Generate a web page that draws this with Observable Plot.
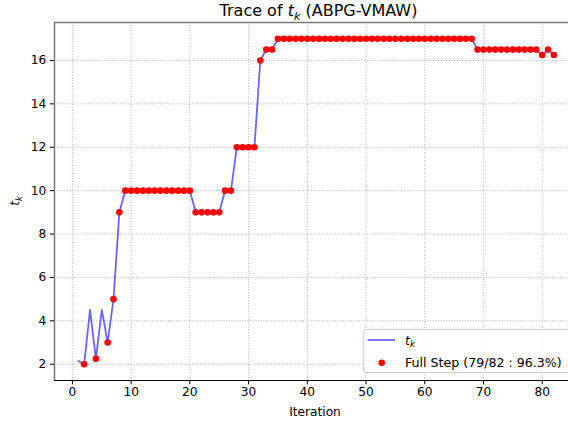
<!DOCTYPE html>
<html><head><meta charset="utf-8">
<script src="https://cdn.jsdelivr.net/npm/d3@7"></script>
<script src="https://cdn.jsdelivr.net/npm/@observablehq/plot@0.6"></script>
<style>
html,body{margin:0;padding:0;background:#fff;}
svg{display:block;}
</style>
</head><body><div id="chart"></div>
<script>
// t_k value at each iteration (iteration = index + 1)
const tkValues = [
  2.15, 2.0, 4.5, 2.25, 4.5, 3.0, 5.0, 9.0,
  10, 10, 10, 10, 10, 10, 10, 10, 10, 10, 10, 10,
  9, 9, 9, 9, 9,
  10, 10,
  12, 12, 12, 12,
  16,
  16.5, 16.5,
  17, 17, 17, 17, 17, 17, 17, 17, 17, 17, 17, 17, 17, 17, 17, 17, 17,
  17, 17, 17, 17, 17, 17, 17, 17, 17, 17, 17, 17, 17, 17, 17, 17, 17,
  16.5, 16.5, 16.5, 16.5, 16.5, 16.5, 16.5, 16.5, 16.5, 16.5, 16.5,
  16.25, 16.5, 16.25
];
// iterations that were NOT full steps
const partialSteps = [1, 3, 5];
const xTicks = [0, 10, 20, 30, 40, 50, 60, 70, 80];
const yTicks = [2, 4, 6, 8, 10, 12, 14, 16];
const titlePre = "Trace of ";
const titlePost = " (ABPG-VMAW)";
const xLabel = "Iteration";
const legendFull = "Full Step (79/82 : 96.3%)";

const data = tkValues.map((t, i) => ({iter: i + 1, tk: t, full: !partialSteps.includes(i + 1)}));
const fullData = data.filter(d => d.full);

const xDom = [-3.05, 84.48];
const yDom = [1.25, 17.75];
const gridStyle = {stroke: "#b0b0b0", strokeOpacity: 1, strokeWidth: 1, strokeDasharray: "1,1.65"};

const chart = Plot.plot({
  width: 568, height: 423,
  marginTop: 22, marginBottom: 43, marginLeft: 54, marginRight: 0,
  style: {fontFamily: "'DejaVu Sans', sans-serif", fontSize: "12.2px", background: "#fff", overflow: "visible", color: "#000"},
  x: {domain: xDom},
  y: {domain: yDom},
  marks: [
    Plot.gridX(xTicks, gridStyle),
    Plot.gridY(yTicks, gridStyle),
    Plot.line(data, {x: "iter", y: "tk", stroke: "blue", strokeOpacity: 0.6, strokeWidth: 1.8}),
    Plot.dot(fullData, {x: "iter", y: "tk", r: 3.3, fill: "red", stroke: "none"}),
    Plot.ruleY([yDom[0]], {stroke: "#000", strokeWidth: 1}),
    Plot.ruleY([yDom[1]], {stroke: "#777", strokeWidth: 1.5}),
    Plot.ruleX([xDom[0]], {stroke: "#777", strokeWidth: 1.5}),
    Plot.axisX(xTicks, {tickSize: 4.3, tickPadding: 3, fontSize: 12.2, label: null, tickFormat: d => String(d)}),
    Plot.axisY(yTicks, {tickSize: 4.3, tickPadding: 4, fontSize: 12.2, label: null, tickFormat: d => String(d)})
  ]
});
document.getElementById("chart").appendChild(chart);

const svg = d3.select(chart);
const ff = "'DejaVu Sans', sans-serif";

function mathTk(sel, size) {
  sel.append("tspan").attr("font-style", "italic").text("t");
  sel.append("tspan").attr("font-style", "italic").attr("font-size", (size * 0.7) + "px").attr("dy", size * 0.22).text("k");
}

// Title
const title = svg.append("text")
  .attr("x", 318.5).attr("y", 16)
  .attr("text-anchor", "middle").attr("font-family", ff).attr("font-size", "16px").attr("fill", "#000");
title.append("tspan").text(titlePre);
mathTk(title, 16);
title.append("tspan").attr("dy", -16 * 0.22).text(titlePost);

// X label
svg.append("text").attr("x", 315).attr("y", 416)
  .attr("text-anchor", "middle").attr("font-family", ff).attr("font-size", "12.2px").attr("fill", "#000")
  .text(xLabel);

// Y label
const yl = svg.append("text").attr("transform", "translate(19,201) rotate(-90)")
  .attr("text-anchor", "middle").attr("font-family", ff).attr("font-size", "12.2px").attr("fill", "#000");
mathTk(yl, 12.2);

// Legend
const lg = svg.append("g").attr("text-anchor", "start");
lg.append("rect").attr("x", 363.5).attr("y", 329.5).attr("width", 207).attr("height", 43)
  .attr("rx", 2.5).attr("fill", "#fff").attr("fill-opacity", 0.8).attr("stroke", "#cccccc").attr("stroke-width", 1);
lg.append("line").attr("x1", 367.7).attr("x2", 395).attr("y1", 340).attr("y2", 340)
  .attr("stroke", "blue").attr("stroke-opacity", 0.6).attr("stroke-width", 1.8);
const lt = lg.append("text").attr("x", 405).attr("y", 344.5).attr("text-anchor", "start")
  .attr("font-family", ff).attr("font-size", "12.6px").attr("fill", "#000");
mathTk(lt, 12.6);
lg.append("circle").attr("cx", 381.7).attr("cy", 362.7).attr("r", 3.3).attr("fill", "red");
lg.append("text").attr("x", 405).attr("y", 367).attr("text-anchor", "start")
  .attr("font-family", ff).attr("font-size", "12.6px").attr("fill", "#000")
  .text(legendFull);
</script>
</body></html>
